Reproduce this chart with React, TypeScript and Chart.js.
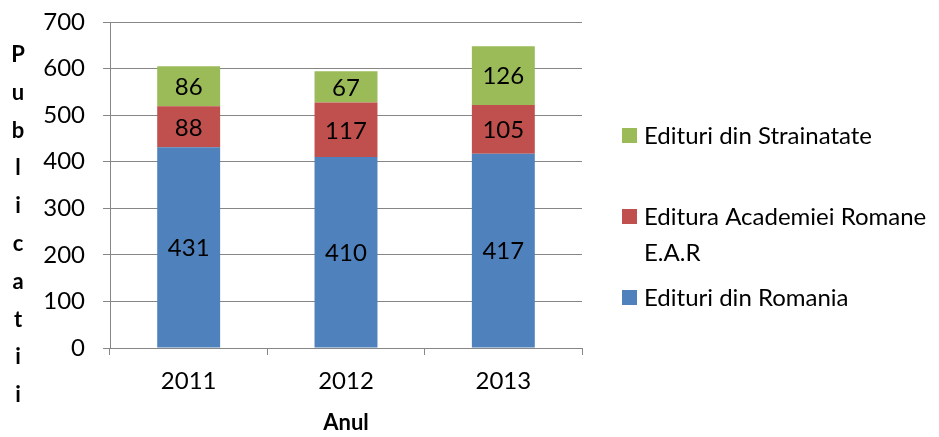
import React, { useEffect, useRef } from "react";
import { Chart, registerables } from "chart.js";

Chart.register(...registerables);

const categories = ["2011", "2012", "2013"];
const romania = [431, 410, 417];
const academiei = [88, 117, 105];
const strainatate = [86, 67, 126];
const labelRomania = "Edituri din Romania";
const labelAcademiei = "Editura Academiei Romane E.A.R";
const labelStrainatate = "Edituri din Strainatate";
const yTitle = "Publicatii";
const xTitle = "Anul";

const FONT = "Lato, 'Open Sans', sans-serif";
const GRID = "#868686";
const FS = 24;

const labelsPlugin = {
  id: "segLabels",
  afterDatasetsDraw(chart: any) {
    const ctx = chart.ctx;
    ctx.save();
    ctx.font = `${FS}px ${FONT}`;
    ctx.fillStyle = "#000";
    ctx.textAlign = "center";
    ctx.textBaseline = "middle";
    chart.data.datasets.forEach((ds: any, di: number) => {
      const meta = chart.getDatasetMeta(di);
      meta.data.forEach((bar: any, i: number) => {
        const y = (bar.y + bar.base) / 2;
        ctx.fillText(String(ds.data[i]), bar.x, y + 1);
      });
    });
    ctx.restore();
  },
};

const decorPlugin = {
  id: "decor",
  afterDraw(chart: any) {
    const ctx = chart.ctx;
    const area = chart.chartArea;
    ctx.save();
    ctx.font = `bold 22px ${FONT}`;
    ctx.fillStyle = "#000";
    ctx.textAlign = "center";
    ctx.textBaseline = "middle";
    const letters = yTitle.split("");
    letters.forEach((ch, i) => {
      ctx.fillText(ch, 18, 55 + i * 37.8);
    });
    ctx.fillText(xTitle, (area.left + area.right) / 2, 423);

    const items = [
      { label: labelStrainatate, color: "#9BBB59", y: 135 },
      { label: labelAcademiei, color: "#C0504D", y: 216 },
      { label: labelRomania, color: "#4F81BD", y: 297 },
    ];
    ctx.font = `${FS}px ${FONT}`;
    ctx.textAlign = "left";
    items.forEach((it) => {
      ctx.fillStyle = it.color;
      ctx.fillRect(622, it.y - 7, 15, 15);
      ctx.fillStyle = "#000";
      const words = it.label.split(" ");
      const lines: string[] = [];
      let cur = "";
      words.forEach((w) => {
        const t = cur ? cur + " " + w : w;
        if (ctx.measureText(t).width > 292 && cur) {
          lines.push(cur);
          cur = w;
        } else cur = t;
      });
      if (cur) lines.push(cur);
      lines.forEach((ln, li) => ctx.fillText(ln, 644, it.y + 1 + li * 36));
    });
    ctx.restore();
  },
};

export default function App() {
  const ref = useRef<HTMLCanvasElement>(null);
  useEffect(() => {
    if (!ref.current) return;
    const chart = new Chart(ref.current, {
      type: "bar",
      data: {
        labels: categories,
        datasets: [
          { label: labelRomania, data: romania, backgroundColor: "#4F81BD" },
          { label: labelAcademiei, data: academiei, backgroundColor: "#C0504D" },
          { label: labelStrainatate, data: strainatate, backgroundColor: "#9BBB59" },
        ],
      },
      options: {
        animation: false,
        responsive: false,
        maintainAspectRatio: false,
        layout: { padding: { top: 22, right: 357, left: 0, bottom: 0 } },
        datasets: { bar: { barPercentage: 0.4, categoryPercentage: 1 } },
        plugins: { legend: { display: false }, tooltip: { enabled: false } },
        scales: {
          x: {
            stacked: true,
            grid: { drawOnChartArea: false, drawTicks: true, tickLength: 7, color: GRID, offset: true },
            border: { color: GRID, width: 1 },
            ticks: { color: "#000", font: { family: FONT, size: FS }, padding: 12 },
            afterFit: (s: any) => { s.height = 89; s.paddingLeft = 0; s.paddingRight = 0; },
          },
          y: {
            stacked: true,
            min: 0,
            max: 700,
            grid: { color: GRID, tickLength: 7, drawTicks: true },
            border: { color: GRID, width: 1 },
            ticks: { stepSize: 100, color: "#000", font: { family: FONT, size: FS }, padding: 18 },
            afterFit: (s: any) => { s.width = 110; s.paddingTop = 0; s.paddingBottom = 0; },
          },
        },
      },
      plugins: [labelsPlugin, decorPlugin],
    });
    return () => chart.destroy();
  }, []);
  return (
    <div style={{ position: "absolute", left: 0, top: 0, width: 939, height: 437, background: "#fff" }}>
      <canvas ref={ref} width={939} height={437} style={{ width: 939, height: 437 }} />
    </div>
  );
}
